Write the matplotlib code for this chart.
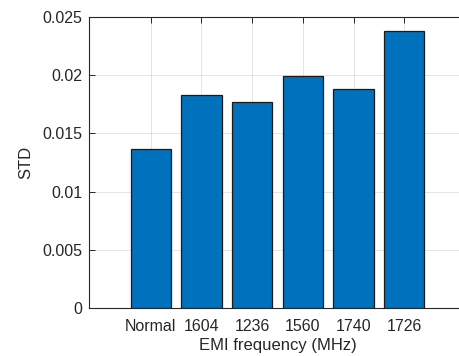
import matplotlib
matplotlib.use("Agg")
import matplotlib.pyplot as plt

categories = ["Normal", "1604", "1236", "1560", "1740", "1726"]
values = [0.01369, 0.01834, 0.01771, 0.01995, 0.0188, 0.0238]
yticks = [0, 0.005, 0.01, 0.015, 0.02, 0.025]
ytick_labels = ["0", "0.005", "0.01", "0.015", "0.02", "0.025"]

plt.rcParams['font.family'] = ['Liberation Sans', 'DejaVu Sans']
W, H = 459, 356
fig = plt.figure(figsize=(W/100, H/100), dpi=100)
left, right, top, bottom = 89, 466, 17.3, 307.7
ax = fig.add_axes([left/W, 1-bottom/H, (right-left)/W, (bottom-top)/H])

axcol = '#262626'
x = list(range(1, len(categories)+1))
ax.bar(x, values, width=0.8, color='#0072BD', edgecolor='#1a1a1a', linewidth=0.9, zorder=3)
ax.set_xlim(-0.22, 7.22)
ax.set_ylim(0, 0.025)
ax.set_xticks(x)
ax.set_xticklabels(categories)
ax.set_yticks(yticks)
ax.set_yticklabels(ytick_labels)
ax.grid(True, color='#262626', alpha=0.12, linewidth=0.7, zorder=0)
ax.set_axisbelow(True)
ax.tick_params(direction='in', length=4, width=0.7, colors=axcol, labelsize=11.5,
               top=True, right=True)
ax.tick_params(axis='x', pad=8)
ax.tick_params(axis='y', pad=5)
for tl in ax.get_xticklabels() + ax.get_yticklabels():
    tl.set_color(axcol)
for s in ax.spines.values():
    s.set_color(axcol)
    s.set_linewidth(0.8)
ax.set_xlabel("EMI frequency (MHz)", fontsize=12, color=axcol, labelpad=3)
ax.set_ylabel("STD", fontsize=12, color=axcol, labelpad=6)
fig.savefig("out.png", dpi=100)
